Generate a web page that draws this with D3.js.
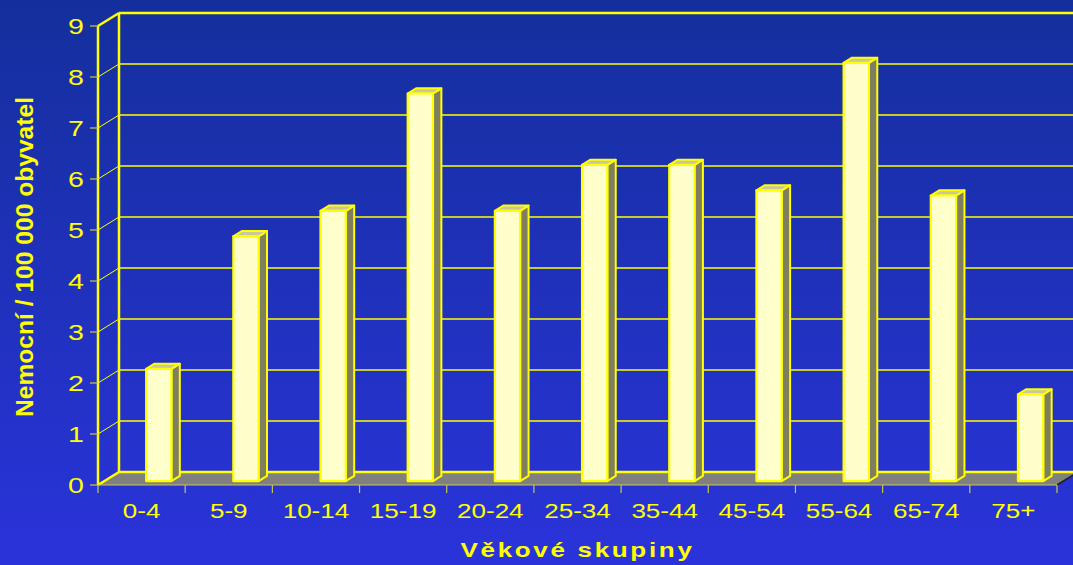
<!DOCTYPE html>
<html>
<head>
<meta charset="utf-8">
<script src="https://cdn.jsdelivr.net/npm/d3@7/dist/d3.min.js"></script>
<style>
  html, body { margin: 0; padding: 0; background: #1e32b8; }
  svg { display: block; }
  text { font-family: "Liberation Sans", Arial, sans-serif; fill: #ffff00; }
</style>
</head>
<body>
<svg id="chart" width="1073" height="565"></svg>
<script>
// Age groups and incidence per 100 000 inhabitants
const categories = ["0-4", "5-9", "10-14", "15-19", "20-24", "25-34", "35-44", "45-54", "55-64", "65-74", "75+"];
const values = [2.2, 4.8, 5.3, 7.6, 5.3, 6.2, 6.2, 5.7, 8.2, 5.6, 1.7];
const yTicks = [0, 1, 2, 3, 4, 5, 6, 7, 8, 9];
const xTitle = "Věkové skupiny";
const yTitle = "Nemocní / 100 000 obyvatel";

const W = 1073, H = 565;
const svg = d3.select("#chart");

// background gradient
const defs = svg.append("defs");
const grad = defs.append("linearGradient").attr("id", "bg").attr("x1", 0).attr("y1", 0).attr("x2", 0).attr("y2", 1);
grad.append("stop").attr("offset", "0%").attr("stop-color", "#142f9c");
grad.append("stop").attr("offset", "100%").attr("stop-color", "#2a33da");
svg.append("rect").attr("width", W).attr("height", H).attr("fill", "url(#bg)");

// front plane scales and depth vector of the 3D box
const x = d3.scaleBand().domain(categories).range([98, 1057]).paddingInner(0).paddingOuter(0);
const y = d3.scaleLinear().domain([0, 9]).range([485, 26]);
const DX = 21, DY = -13;
const P = (px, py, d) => [px + d * DX, py + d * DY];
const line = d3.line();

const [x0, x1] = x.range();
const yellow = "#ffff00";

// floor
svg.append("path")
  .attr("d", line([P(x0, y(0), 0), P(x1, y(0), 0), P(x1, y(0), 1), P(x0, y(0), 1)]) + "Z")
  .attr("fill", "#808080");
// dark right edge of floor
svg.append("path").attr("d", line([P(x1, y(0), 0), P(x1, y(0), 1)]))
  .attr("stroke", "#202020").attr("stroke-width", 1.5).attr("fill", "none");

// back wall gridlines
svg.append("g").selectAll("line").data(yTicks).join("line")
  .attr("x1", d => P(x0, y(d), 1)[0]).attr("x2", d => P(x1, y(d), 1)[0])
  .attr("y1", d => P(x0, y(d), 1)[1]).attr("y2", d => P(x1, y(d), 1)[1])
  .attr("stroke", yellow)
  .attr("stroke-width", d => (d === 0 || d === 9) ? 2.5 : 1.6);

// side wall diagonals
svg.append("g").selectAll("line").data(yTicks).join("line")
  .attr("x1", d => P(x0, y(d), 0)[0]).attr("x2", d => P(x0, y(d), 1)[0])
  .attr("y1", d => P(x0, y(d), 0)[1]).attr("y2", d => P(x0, y(d), 1)[1])
  .attr("stroke", yellow)
  .attr("stroke-width", d => (d === 0 || d === 9) ? 2.5 : 1);

// vertical wall edges
svg.append("line")
  .attr("x1", P(x0, y(0), 1)[0]).attr("x2", P(x0, y(9), 1)[0])
  .attr("y1", P(x0, y(0), 1)[1]).attr("y2", P(x0, y(9), 1)[1])
  .attr("stroke", yellow).attr("stroke-width", 2.5);
svg.append("line")
  .attr("x1", x0).attr("x2", x0).attr("y1", y(0)).attr("y2", y(9))
  .attr("stroke", yellow).attr("stroke-width", 2.5);

// front floor edge (category axis line)
svg.append("line").attr("x1", x0).attr("x2", x1).attr("y1", y(0)).attr("y2", y(0))
  .attr("stroke", "#c8c850").attr("stroke-width", 1.2);

// category ticks
const xTickPos = categories.map(c => x(c)).concat([x1]);
svg.append("g").selectAll("line").data(xTickPos).join("line")
  .attr("x1", d => d).attr("x2", d => d).attr("y1", y(0)).attr("y2", y(0) + 8)
  .attr("stroke", "#c8c850").attr("stroke-width", 1.2);

// value ticks
svg.append("g").selectAll("line").data(yTicks).join("line")
  .attr("x1", x0 - 8).attr("x2", x0).attr("y1", d => y(d)).attr("y2", d => y(d))
  .attr("stroke", "#c8c850").attr("stroke-width", 1.2);

// bars as prisms
const fb = 0.3, db = 0.4;
const bw = x.bandwidth();
const barW = bw * 0.29;
const bars = svg.append("g").selectAll("g").data(categories.map((c, i) => ({ c, v: values[i] }))).join("g");
bars.each(function(d) {
  const g = d3.select(this);
  const left = x(d.c) + bw * 0.48;
  const right = left + barW;
  const yb = y(0), yt = y(d.v);
  const f = (px, py) => P(px, py, fb);
  const b = (px, py) => P(px, py, fb + db);
  // side face
  g.append("path").attr("d", line([f(right, yb), b(right, yb), b(right, yt), f(right, yt)]) + "Z")
    .attr("fill", "#7f7f60").attr("stroke", yellow).attr("stroke-width", 2).attr("stroke-linejoin", "round");
  // top face
  g.append("path").attr("d", line([f(left, yt), f(right, yt), b(right, yt), b(left, yt)]) + "Z")
    .attr("fill", "#c8c89c").attr("stroke", yellow).attr("stroke-width", 2).attr("stroke-linejoin", "round");
  // front face
  g.append("path").attr("d", line([f(left, yb), f(right, yb), f(right, yt), f(left, yt)]) + "Z")
    .attr("fill", "#ffffcc").attr("stroke", yellow).attr("stroke-width", 2.2).attr("stroke-linejoin", "round");
});

// horizontally widened text, as in the slide
const SX = 1.27;

// value tick labels
svg.append("g").selectAll("text").data(yTicks).join("text")
  .attr("transform", d => `translate(84,${y(d) + 8}) scale(${SX},1)`)
  .attr("text-anchor", "end")
  .attr("font-size", 22.5)
  .text(d => d);

// category labels
svg.append("g").selectAll("text").data(categories).join("text")
  .attr("transform", d => `translate(${x(d) + bw / 2},518) scale(${SX},1)`)
  .attr("text-anchor", "middle")
  .attr("font-size", 20.5)
  .text(d => d);

// axis titles
svg.append("text")
  .attr("transform", `translate(${(x0 + x1) / 2},557) scale(${SX},1)`)
  .attr("text-anchor", "middle")
  .attr("font-size", 20.5)
  .attr("font-weight", "bold")
  .attr("letter-spacing", 2.1)
  .text(xTitle);

svg.append("text")
  .attr("transform", "translate(33,257) rotate(-90)")
  .attr("text-anchor", "middle")
  .attr("font-size", 23.5)
  .attr("font-weight", "bold")
  .attr("textLength", 320)
  .attr("lengthAdjust", "spacingAndGlyphs")
  .text(yTitle);
</script>
</body>
</html>
